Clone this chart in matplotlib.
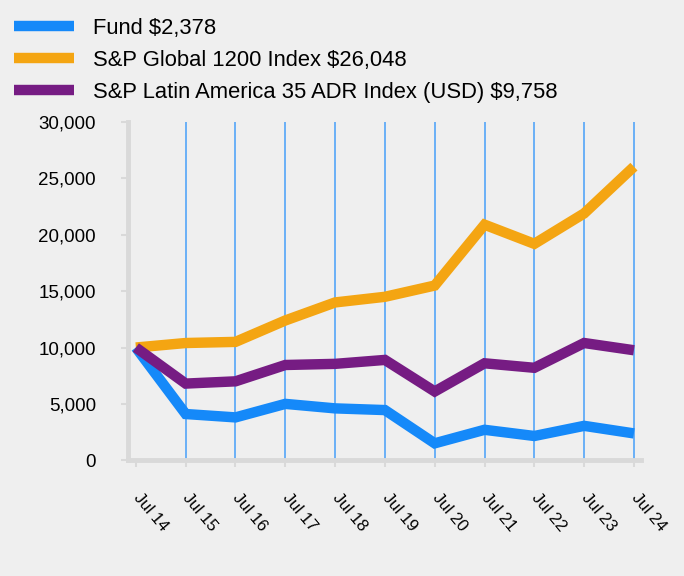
import numpy as np
import matplotlib.pyplot as plt
from matplotlib.transforms import ScaledTranslation

plt.rcParams['font.family'] = ['Liberation Sans', 'DejaVu Sans']

# Données
annees = ['Jul 14', 'Jul 15', 'Jul 16', 'Jul 17', 'Jul 18', 'Jul 19',
          'Jul 20', 'Jul 21', 'Jul 22', 'Jul 23', 'Jul 24']
fonds = [10000, 4100, 3800, 5000, 4600, 4450, 1500, 2700, 2150, 3050, 2378]
global_1200 = [10000, 10400, 10500, 12400, 14000, 14500, 15500, 20900, 19200, 21900, 26048]
latam_35 = [10000, 6800, 7000, 8450, 8550, 8900, 6100, 8600, 8200, 10400, 9758]

rotulos = ['Fund $2,378', 'S&P Global 1200 Index $26,048',
           'S&P Latin America 35 ADR Index (USD) $9,758']
cores = ['#1589f9', '#f4a512', '#761c83']

fundo = '#efefef'
fig = plt.figure(figsize=(6.84, 5.76), dpi=100, facecolor=fundo)
ax = fig.add_axes([0.187, 0.201, 0.75, 0.587], facecolor=fundo)

x = np.arange(len(annees))
for xi in x[1:]:
    ax.axvline(xi, color='#6ab0f7', lw=1.4, zorder=1)

for serie, rotulo, cor in zip([fonds, global_1200, latam_35], rotulos, cores):
    ax.plot(x, serie, color=cor, lw=7.5, label=rotulo, zorder=3,
            solid_joinstyle='miter', solid_capstyle='butt')

ax.set_xlim(-0.16, 10.14)
ax.set_ylim(0, 30000)

for lado in ['top', 'right']:
    ax.spines[lado].set_visible(False)
for lado in ['left', 'bottom']:
    ax.spines[lado].set_color('#d9d9d9')
    ax.spines[lado].set_linewidth(3.5)
ax.tick_params(axis='both', colors='#d9d9d9', labelcolor='black', length=5, width=1.5)
ax.tick_params(axis='x', pad=17)
ax.tick_params(axis='y', pad=18)

ax.set_yticks(np.arange(0, 30001, 5000))
ax.set_yticklabels([f'{v:,}' for v in range(0, 30001, 5000)], fontsize=13.5)
ax.set_xticks(x)
ax.set_xticklabels(annees, fontsize=12, rotation=-50, ha='left', va='top',
                   rotation_mode='anchor')
# petit décalage vers la droite des étiquettes (après tick_params)
decalage = ScaledTranslation(6 / 100, 0, fig.dpi_scale_trans)
for rot in ax.get_xticklabels():
    rot.set_transform(rot.get_transform() + decalage)

fig.legend(loc='upper left', bbox_to_anchor=(0.007, 0.984), frameon=False,
           borderaxespad=0, fontsize=15.8, handlelength=2.75, handletextpad=0.86,
           labelspacing=0.5)

plt.savefig('out.png', dpi=100, facecolor=fundo)
